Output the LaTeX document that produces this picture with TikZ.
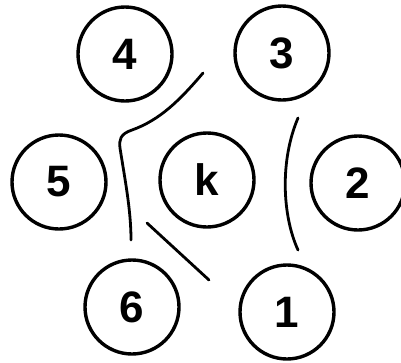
\documentclass[tikz,border=0pt]{standalone}
\usepackage{fontspec}
\setmainfont{Liberation Sans}
\usepackage{tikz}

\begin{document}
\begin{tikzpicture}[
    x=1pt, y=-1pt,
    ring/.style={circle, draw, line width=3.4pt, minimum size=94pt,
                 inner sep=0pt, font=\fontsize{44}{44}\selectfont\bfseries},
    wall/.style={line width=2.8pt, line cap=round}
  ]
    \useasboundingbox (0,0) rectangle (401,362);
    \clip (0,0) rectangle (401,362);

    \node[ring] (four)  at (125,54)  {4};
    \node[ring] (three) at (282,53)  {3};
    \node[ring] (five)  at (59,182)  {5};
    \node[ring] (k)     at (207,180) {k};
    \node[ring] (two)   at (358,183) {2};
    \node[ring] (six)   at (132,307) {6};
    \node[ring] (one)   at (287,312) {1};

    % separating curves
    \draw[wall] (203,73) .. controls (180,100) and (160,120) .. (132,130)
                .. controls (120,134) and (119,140) .. (120,148)
                .. controls (125,180) and (131,210) .. (131,240);
    \draw[wall] (147,223) -- (209,280);
    \draw[wall] (298,118) .. controls (280,160) and (282,215) .. (298,250);
  \end{tikzpicture}
\end{document}
